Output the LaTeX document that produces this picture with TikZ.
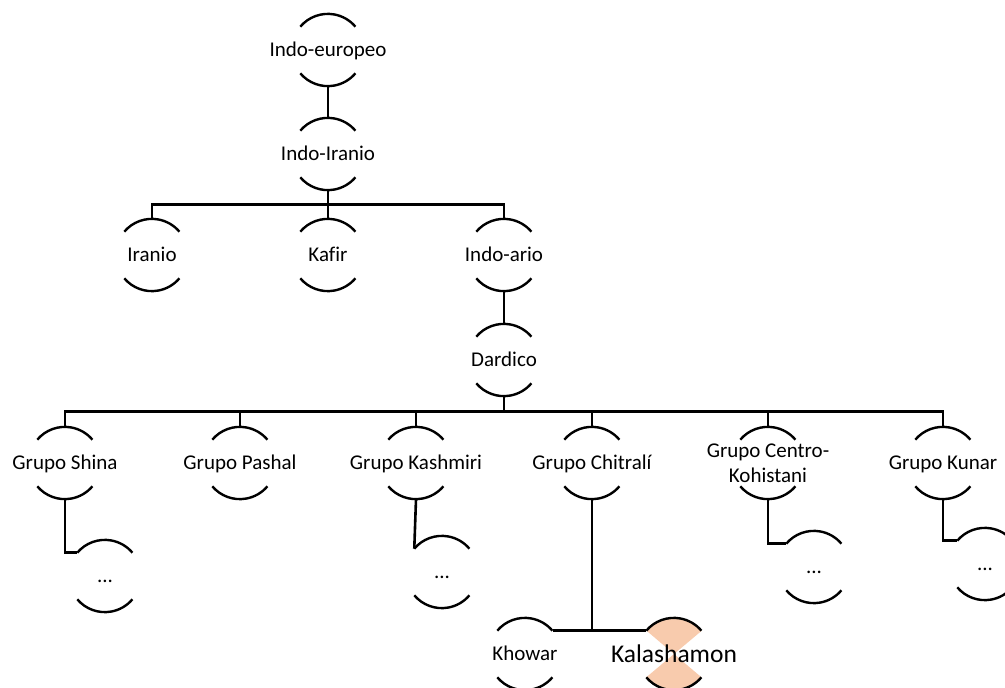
\documentclass[tikz,border=0pt]{standalone}
\usepackage{fontspec}
\setmainfont{Carlito}[Ligatures={NoCommon}]
\definecolor{peach}{HTML}{F8CBAD}
\begin{document}
\begin{tikzpicture}[x=1pt,y=-1pt,
  shp/.style={circle,minimum size=72pt,inner sep=0pt,draw=none},
  txt/.style={font=\fontsize{21}{25}\selectfont,inner sep=0pt,text height=13.5pt,text depth=0pt},
  arcl/.style={line width=2.4pt},
  con/.style={line width=2.6pt}]
\useasboundingbox (0,0) rectangle (1005,688);
% shapes
\node[shp] (ie) at (328,50) {};
\node[shp] (ii) at (328,154) {};
\node[shp] (ir) at (152,255) {};
\node[shp] (kf) at (328,255) {};
\node[shp] (ia) at (504,255) {};
\node[shp] (da) at (504,360) {};
\node[shp] (sh) at (65,463) {};
\node[shp] (pa) at (240,463) {};
\node[shp] (ks) at (416,463) {};
\node[shp] (ch) at (592,463) {};
\node[shp] (ck) at (768,463) {};
\node[shp] (ku) at (943,463) {};
\node[shp] (shc) at (105,576) {};
\node[shp] (ksc) at (442,572) {};
\node[shp] (ckc) at (814,567) {};
\node[shp] (kuc) at (985,564) {};
\node[shp] (kh) at (525,654) {};
\node[shp] (ka) at (674,654) {};
% highlighted node fill
\fill[peach] (ka.center) -- (ka.40) arc[start angle=40,end angle=140,radius=36pt] -- cycle;
\fill[peach] (ka.center) -- (ka.220) arc[start angle=220,end angle=320,radius=36pt] -- cycle;
% arcs
\foreach \n in {ie,ii,ir,kf,ia,da,sh,pa,ks,ch,ck,ku,shc,ksc,ckc,kuc,kh,ka}{
  \draw[arcl] (\n.140) arc[start angle=140,end angle=40,radius=36pt];
  \draw[arcl] (\n.220) arc[start angle=220,end angle=320,radius=36pt];
}
% texts
\node[txt] (ie-t) at (ie) {Indo-europeo};
\node[txt] (ii-t) at (ii) {Indo-Iranio};
\node[txt] (ir-t) at (ir) {Iranio};
\node[txt] (kf-t) at (kf) {Kafir};
\node[txt] (ia-t) at (ia) {Indo-ario};
\node[txt] (da-t) at (da) {Dardico};
\node[txt] (sh-t) at (sh) {Grupo Shina};
\node[txt] (pa-t) at (pa) {Grupo Pashal};
\node[txt] (ks-t) at (ks) {Grupo Kashmiri};
\node[txt] (ch-t) at (ch) {Grupo Chitralí};
\node[font=\fontsize{21}{25}\selectfont,inner sep=0pt,align=center,anchor=base] (ck-t) at ([yshift=-19pt]ck.center) {Grupo Centro-\\Kohistani};
\node[txt] (ku-t) at (ku) {Grupo Kunar};
\node[txt] (shc-t) at (shc) {...};
\node[txt] (ksc-t) at (ksc) {...};
\node[txt] (ckc-t) at (ckc) {...};
\node[txt] (kuc-t) at (kuc) {...};
\node[txt] (kh-t) at (kh) {Khowar};
\node[font=\fontsize{25.5}{30}\selectfont,inner sep=0pt,text height=16pt,text depth=0pt] (ka-t) at (ka) {Kalashamon};
% connectors
\draw[con] (ie.south) -- (ii.north);
\draw[con] (ii.south) -- ++(0,14) coordinate (b1);
\draw[con] (ir.north) |- (b1) -| (ia.north);
\draw[con] (b1) -- (kf.north);
\draw[con] (ia.south) -- (da.north);
\draw[con] (da.south) -- ++(0,15) coordinate (b2);
\draw[con] (sh.north) |- (b2) -| (ku.north);
\foreach \n in {pa,ks,ch,ck}{\draw[con] (\n.north) -- (\n.north |- b2);}
\draw[con] (sh.south) |- (shc.140);
\draw[con] (ks.south) -- (ksc.140);
\draw[con] (ck.south) |- (ckc.140);
\draw[con] (ku.south) |- (kuc.140);
\draw[con] (ch.south) -- (ch.south |- kh.40) coordinate (b3);
\draw[con] (kh.40) -- (ka.140);
\end{tikzpicture}
\end{document}
